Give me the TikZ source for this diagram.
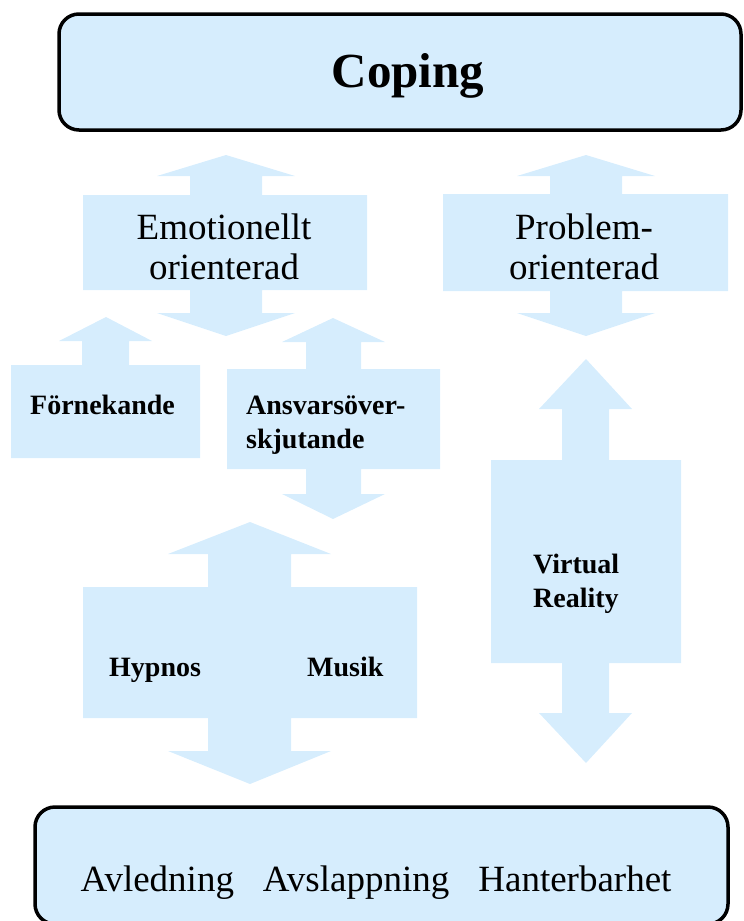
\documentclass[tikz,border=0pt]{standalone}
\usepackage{fontspec}
\setmainfont{Liberation Serif}
\definecolor{paleblue}{RGB}{214,237,253}
\tikzset{
  blockshape/.style={fill=paleblue, draw=none},
  roundbox/.style={fill=paleblue, draw=black, line width=3.5pt, rounded corners=20pt},
  bigtxt/.style={inner sep=0pt, font=\fontsize{37}{40}\selectfont, align=center},
  lbltxt/.style={inner sep=0pt, font=\fontsize{28}{34}\selectfont\bfseries, align=left},
}
\begin{document}
\begin{tikzpicture}[x=1pt,y=-1pt]
\useasboundingbox (0,0) rectangle (744,921);
\clip (0,0) rectangle (744,921);

% Coping box
\draw[roundbox] (59,14) rectangle (741,130);
\node[inner sep=0pt, anchor=base, font=\fontsize{49}{52}\selectfont\bfseries] (coping) at (408,87) {Coping};

% Emotionellt orienterad
\path[blockshape] (83,195) -- (190,195) -- (190,176) -- (157,176) -- (226,155) -- (295,176) -- (262,176) -- (262,195)
  -- (367,195) -- (367,290) -- (262,290) -- (262,313) -- (295,313) -- (226,336) -- (157,313) -- (190,313) -- (190,290) -- (83,290) -- cycle;
\node[bigtxt, anchor=base] (emo) at (224,279) {Emotionellt\\orienterad};

% Problem-orienterad
\path[blockshape] (443,194) -- (550,194) -- (550,176) -- (517,176) -- (586,155) -- (655,176) -- (622,176) -- (622,194)
  -- (728,194) -- (728,291) -- (622,291) -- (622,313) -- (655,313) -- (586,336) -- (517,313) -- (550,313) -- (550,291) -- (443,291) -- cycle;
\node[bigtxt, anchor=base] (prob) at (584,279) {Problem-\\orienterad};

% Förnekande
\path[blockshape] (11,365) -- (82,365) -- (82,341) -- (59,341) -- (106,317) -- (152,341) -- (129,341) -- (129,365)
  -- (200,365) -- (200,458) -- (11,458) -- cycle;
\node[lbltxt, anchor=base west] (forn) at (30,414) {Förnekande};

% Ansvarsöverskjutande
\path[blockshape] (227,369) -- (306,369) -- (306,342) -- (282,342) -- (333,318) -- (385,342) -- (361,342) -- (361,369)
  -- (440,369) -- (440,469) -- (361,469) -- (361,494) -- (385,494) -- (333,519) -- (282,494) -- (306,494) -- (306,469) -- (227,469) -- cycle;
\node[lbltxt, anchor=base west] (ansv) at (246,448) {Ansvarsöver-\\skjutande};

% Hypnos / Musik
\path[blockshape] (83,587) -- (208,587) -- (208,554) -- (168,554) -- (250,522) -- (331,554) -- (291,554) -- (291,587)
  -- (417,587) -- (417,718) -- (291,718) -- (291,751) -- (331,751) -- (250,784) -- (168,751) -- (208,751) -- (208,718) -- (83,718) -- cycle;
\node[lbltxt, anchor=base west] (hyp) at (109,676) {Hypnos};
\node[lbltxt, anchor=base west] (mus) at (307,676) {Musik};

% Virtual Reality
\path[blockshape] (491,460) -- (562,460) -- (562,409) -- (539,409) -- (586,359) -- (632,409) -- (609,409) -- (609,460)
  -- (681,460) -- (681,663) -- (609,663) -- (609,713) -- (632,713) -- (586,763) -- (539,713) -- (562,713) -- (562,663) -- (491,663) -- cycle;
\node[lbltxt, anchor=base west] (vr) at (533,607) {Virtual\\Reality};

% Bottom box
\draw[roundbox] (35,807) rectangle (728,924);
\node[inner sep=0pt, anchor=base, font=\fontsize{37}{40}\selectfont] (bottom) at (376,891) {Avledning\hspace{29pt}Avslappning\hspace{29pt}Hanterbarhet};
\end{tikzpicture}
\end{document}
